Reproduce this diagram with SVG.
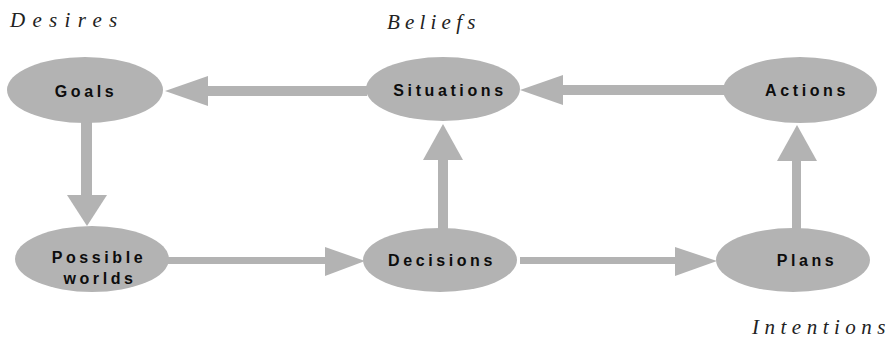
<svg xmlns="http://www.w3.org/2000/svg" width="892" height="340" viewBox="0 0 892 340">
  <style>
    .node { fill: #b3b3b3; }
    .lbl { font-family: "Liberation Sans", Arial, sans-serif; font-weight: bold; font-size: 16px; letter-spacing: 3.6px; fill: #0d0d0d; text-anchor: middle; }
    .cap { font-family: "Liberation Serif", "Times New Roman", serif; font-style: italic; font-size: 21px; letter-spacing: 6.5px; fill: #222; }
    .shaft { fill: #b3b3b3; }
    .head { fill: #b3b3b3; }
  </style>
  <rect width="892" height="340" fill="#ffffff"/>

  <!-- BDI category captions -->
  <text class="cap" x="10" y="27" style="letter-spacing:7.3px">Desires</text>
  <text class="cap" x="387" y="29" style="letter-spacing:5.2px">Beliefs</text>
  <text class="cap" x="752" y="334" style="letter-spacing:5.5px">Intentions</text>

  <!-- connectors: thick bars with triangular heads -->
  <g id="connectors">
    <!-- Situations -> Goals -->
    <rect class="shaft" x="205" y="86" width="162" height="10"/>
    <polygon class="head" points="165,91 208,76 208,106"/>
    <!-- Actions -> Situations -->
    <rect class="shaft" x="560" y="85" width="165" height="10"/>
    <polygon class="head" points="520,90 563,75 563,105"/>
    <!-- Goals -> Possible worlds -->
    <rect class="shaft" x="81" y="122" width="11" height="75"/>
    <polygon class="head" points="87,226 67,195 107,195"/>
    <!-- Possible worlds -> Decisions -->
    <rect class="shaft" x="168" y="257" width="160" height="7"/>
    <polygon class="head" points="365,261 325,247 325,276"/>
    <!-- Decisions -> Situations -->
    <rect class="shaft" x="438" y="158" width="10" height="72"/>
    <polygon class="head" points="443,124 423,160 463,160"/>
    <!-- Decisions -> Plans -->
    <rect class="shaft" x="520" y="257" width="158" height="7"/>
    <polygon class="head" points="717,261 675,247 675,276"/>
    <!-- Plans -> Actions -->
    <rect class="shaft" x="792" y="158" width="9" height="72"/>
    <polygon class="head" points="797,125 777,161 817,161"/>
  </g>

  <g id="goals">
    <ellipse class="node" cx="85" cy="90" rx="78" ry="33"/>
    <text class="lbl" x="86" y="97">Goals</text>
  </g>
  <g id="situations">
    <ellipse class="node" cx="443" cy="89" rx="77" ry="32"/>
    <text class="lbl" x="450" y="96">Situations</text>
  </g>
  <g id="actions">
    <ellipse class="node" cx="800" cy="90" rx="77" ry="33"/>
    <text class="lbl" x="807" y="96">Actions</text>
  </g>
  <g id="possible-worlds">
    <ellipse class="node" cx="92" cy="259" rx="77" ry="33"/>
    <text class="lbl" x="99" y="263">Possible</text>
    <text class="lbl" x="100" y="284">worlds</text>
  </g>
  <g id="decisions">
    <ellipse class="node" cx="440" cy="260" rx="77" ry="32"/>
    <text class="lbl" x="442" y="266">Decisions</text>
  </g>
  <g id="plans">
    <ellipse class="node" cx="793" cy="260" rx="77" ry="32"/>
    <text class="lbl" x="807" y="266">Plans</text>
  </g>
</svg>
